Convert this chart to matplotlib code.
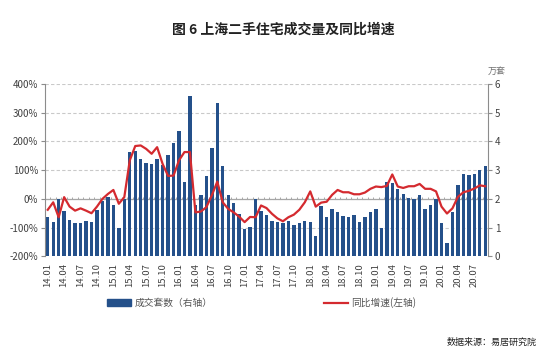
import numpy as np
import matplotlib
matplotlib.use("Agg")
import matplotlib.pyplot as plt
from matplotlib.patches import Patch
from matplotlib.lines import Line2D

plt.rcParams['font.family'] = ['Noto Sans CJK SC', 'DejaVu Sans']

months = [f"{y:02d}.{m:02d}" for y in range(14, 21) for m in range(1, 13)][:81]

volume = [1.36, 1.19, 1.98, 1.59, 1.28, 1.16, 1.16, 1.24, 1.20, 1.62, 1.91, 2.08,
          1.79, 0.98, 1.98, 3.62, 3.65, 3.38, 3.24, 3.22, 3.38, 3.17, 3.52, 3.95,
          4.36, 2.60, 5.57, 1.80, 2.15, 2.79, 3.76, 5.34, 3.16, 2.15, 1.87, 1.48,
          0.95, 1.02, 1.98, 1.57, 1.45, 1.24, 1.19, 1.17, 1.24, 1.08, 1.17, 1.24,
          1.20, 0.72, 1.76, 1.38, 1.63, 1.56, 1.42, 1.36, 1.43, 1.21, 1.36, 1.56,
          1.66, 0.99, 2.60, 2.55, 2.35, 2.18, 2.04, 2.00, 2.13, 1.63, 1.80, 2.00,
          1.15, 0.47, 1.55, 2.48, 2.87, 2.82, 2.85, 3.00, 3.13]

yoy = [-38, -12, -64, 6, -27, -41, -33, -41, -50, -27, 0, 17,
       31, -17, 6, 134, 184, 186, 174, 157, 180, 122, 80, 81,
       134, 163, 163, -47, -44, -29, 12, 60, -12, -35, -47, -62,
       -81, -63, -64, -23, -32, -52, -68, -78, -64, -55, -38, -12,
       26, -27, -13, -10, 14, 31, 23, 23, 16, 16, 22, 35,
       43, 41, 45, 85, 43, 38, 44, 44, 52, 35, 35, 26,
       -27, -51, -33, 7, 23, 28, 36, 47, 44]

left_ticks = [-200, -100, 0, 100, 200, 300, 400]
left_labels = ["-200%", "-100%", "0%", "100%", "200%", "300%", "400%"]
right_ticks = [0, 1, 2, 3, 4, 5, 6]

title = "图 6 上海二手住宅成交量及同比增速"
bar_name = "成交套数（右轴）"
line_name = "同比增速(左轴)"
unit = "万套"
source = "数据来源：易居研究院"

BLUE = "#24508a"
RED = "#d42a2f"
GRID = "#c9c9c9"
AXC = "#8c8c8c"
TXT = "#404040"

fig = plt.figure(figsize=(5.54, 3.64), dpi=100)
rect = [45/554, 1-256.3/364, 443/554, (256.3-84)/364]

# bars: right axis (万套)
ax = fig.add_axes(rect)
x = np.arange(len(months))
ax.set_xlim(-0.5, len(months)-0.5)
ax.set_ylim(0, 6)
for t in right_ticks[1:]:
    ax.axhline(t, color=GRID, lw=0.8, ls=(0, (3, 2)), zorder=0)
ax.bar(x, volume, width=0.62, color=BLUE, zorder=2)
ax.axhline(2, color="#a6a6a6", lw=0.9, zorder=1)
ax.vlines(np.arange(-0.5, len(months)), 2.0, 2.07, color="#a6a6a6", lw=0.7, zorder=1)
ax.set_yticks(right_ticks)
ax.set_yticklabels([str(t) for t in right_ticks])
ax.tick_params(axis='y', left=False, labelleft=False, right=True, labelright=True,
               labelsize=7, labelcolor=TXT, length=3, color=AXC, pad=2)
ax.set_xticks(x[::3])
ax.set_xticklabels(months[::3], rotation=90)
ax.tick_params(axis='x', length=0, pad=5, labelsize=6.8, labelcolor=TXT)
for s in ['top', 'bottom', 'left']:
    ax.spines[s].set_visible(False)
ax.spines['right'].set_color(AXC)
ax.spines['right'].set_linewidth(0.8)

# line: left axis (%)
ax2 = fig.add_axes(rect, sharex=ax)
ax2.patch.set_visible(False)
ax2.set_ylim(-200, 400)
ax2.plot(x, yoy, color=RED, lw=1.6, zorder=3, solid_joinstyle='round')
ax2.set_yticks(left_ticks)
ax2.set_yticklabels(left_labels)
ax2.tick_params(axis='y', left=True, labelleft=True, right=False, labelright=False,
                labelsize=7, labelcolor=TXT, length=3, color=AXC, pad=2)
ax2.tick_params(axis='x', bottom=False, labelbottom=False)
for s in ['top', 'bottom', 'right']:
    ax2.spines[s].set_visible(False)
ax2.spines['left'].set_color(AXC)
ax2.spines['left'].set_linewidth(0.8)

fig.text(0.512, 1-30/364, title, ha='center', va='center', fontsize=10,
         fontweight='bold', color="#222222")
fig.text(497/554, 1-71/364, unit, ha='center', va='center', fontsize=6.5, color="#707070")

handles = [Patch(facecolor=BLUE, edgecolor=BLUE), Line2D([], [], color=RED, lw=1.6)]
fig.legend(handles, [bar_name, line_name], loc='center', ncol=2,
           bbox_to_anchor=(262/554, 1-302.5/364), frameon=False, fontsize=7,
           handlelength=2.4, handleheight=0.6, columnspacing=11.5, handletextpad=0.4,
           labelcolor="#555555")
fig.text(537/554, 1-342/364, source, ha='right', va='center', fontsize=6.5, color="#222222")

fig.savefig("out.png", dpi=100)
